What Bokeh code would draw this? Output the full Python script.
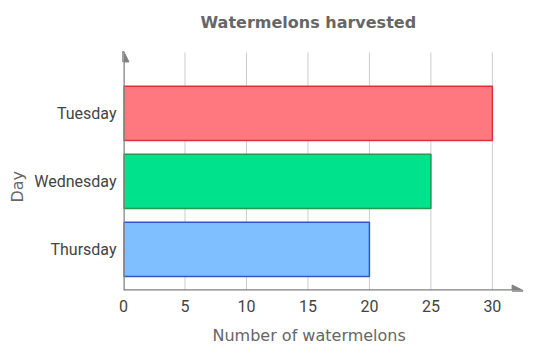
from bokeh.plotting import figure
from bokeh.models import Range1d, FixedTicker, Arrow, NormalHead, Title, ColumnDataSource
from bokeh.embed import file_html
from bokeh.resources import INLINE

days = ["Tuesday", "Wednesday", "Thursday"]
counts = [30, 25, 20]
fills = ["#ff7880", "#00e28c", "#80bfff"]
borders = ["#dd3038", "#1f9c4f", "#3355cc"]
x_ticks = [0, 5, 10, 15, 20, 25, 30]

ypos = [len(days) - i for i in range(len(days))]
src = ColumnDataSource(dict(y=ypos, right=counts, fill=fills, line=borders))

Y0, YGRID, YTOP, YEND = 0.394, 3.898, 3.92, 4.044
XTIP = 32.5

p = figure(width=541, height=356, output_backend="svg", toolbar_location=None,
           x_range=Range1d(0, 33.1), y_range=Range1d(Y0, YEND),
           min_border_left=123, min_border_top=40, min_border_bottom=66, min_border_right=11)
p.outline_line_color = None
p.title.visible = False

# grid lines
p.segment(x0=x_ticks[1:], y0=[Y0] * 6, x1=x_ticks[1:], y1=[YGRID] * 6,
          line_color="#cccccc", line_width=1)

p.hbar(y="y", left=0, right="right", height=0.80, fill_color="fill", line_color="line",
       line_width=1.5, source=src)

p.xaxis.ticker = FixedTicker(ticks=x_ticks)
p.yaxis.ticker = FixedTicker(ticks=ypos)
p.yaxis.major_label_overrides = {y: d for y, d in zip(ypos, days)}
for ax in (p.xaxis[0], p.yaxis[0]):
    ax.axis_line_color = None
    ax.major_tick_line_color = None
    ax.minor_tick_line_color = None
    ax.major_tick_out = 0
    ax.major_tick_in = 0
    ax.minor_tick_out = 0
    ax.minor_tick_in = 0
    ax.major_label_text_font = "Roboto"
    ax.major_label_text_font_size = "16px"
    ax.major_label_text_color = "#444444"
p.xaxis.major_label_standoff = 9
p.yaxis.major_label_standoff = 7
p.xgrid.grid_line_color = None
p.ygrid.grid_line_color = None

head = dict(size=11, fill_color="#808080", line_color="#808080")
p.add_layout(Arrow(end=NormalHead(**head), x_start=0, y_start=Y0, x_end=XTIP, y_end=Y0,
                   line_color="#808080", line_width=2.5))
p.add_layout(Arrow(end=NormalHead(**head), x_start=0, y_start=Y0, x_end=0, y_end=YTOP,
                   line_color="#808080", line_width=2.5))

p.add_layout(Title(text="Watermelons harvested", align="left", offset=77, standoff=21,
                   text_font="DejaVu Sans", text_font_style="bold",
                   text_font_size="16px", text_color="#666666"), "above")
p.add_layout(Title(text="Number of watermelons", align="left", offset=89, standoff=19,
                   text_font="DejaVu Sans", text_font_style="normal",
                   text_font_size="16px", text_color="#666666"), "below")
p.add_layout(Title(text="Day", align="left", offset=88,
                   text_font="DejaVu Sans", text_font_style="normal",
                   text_font_size="16px", text_color="#666666"), "left")

open("out.html", "w").write(file_html(p, INLINE))
